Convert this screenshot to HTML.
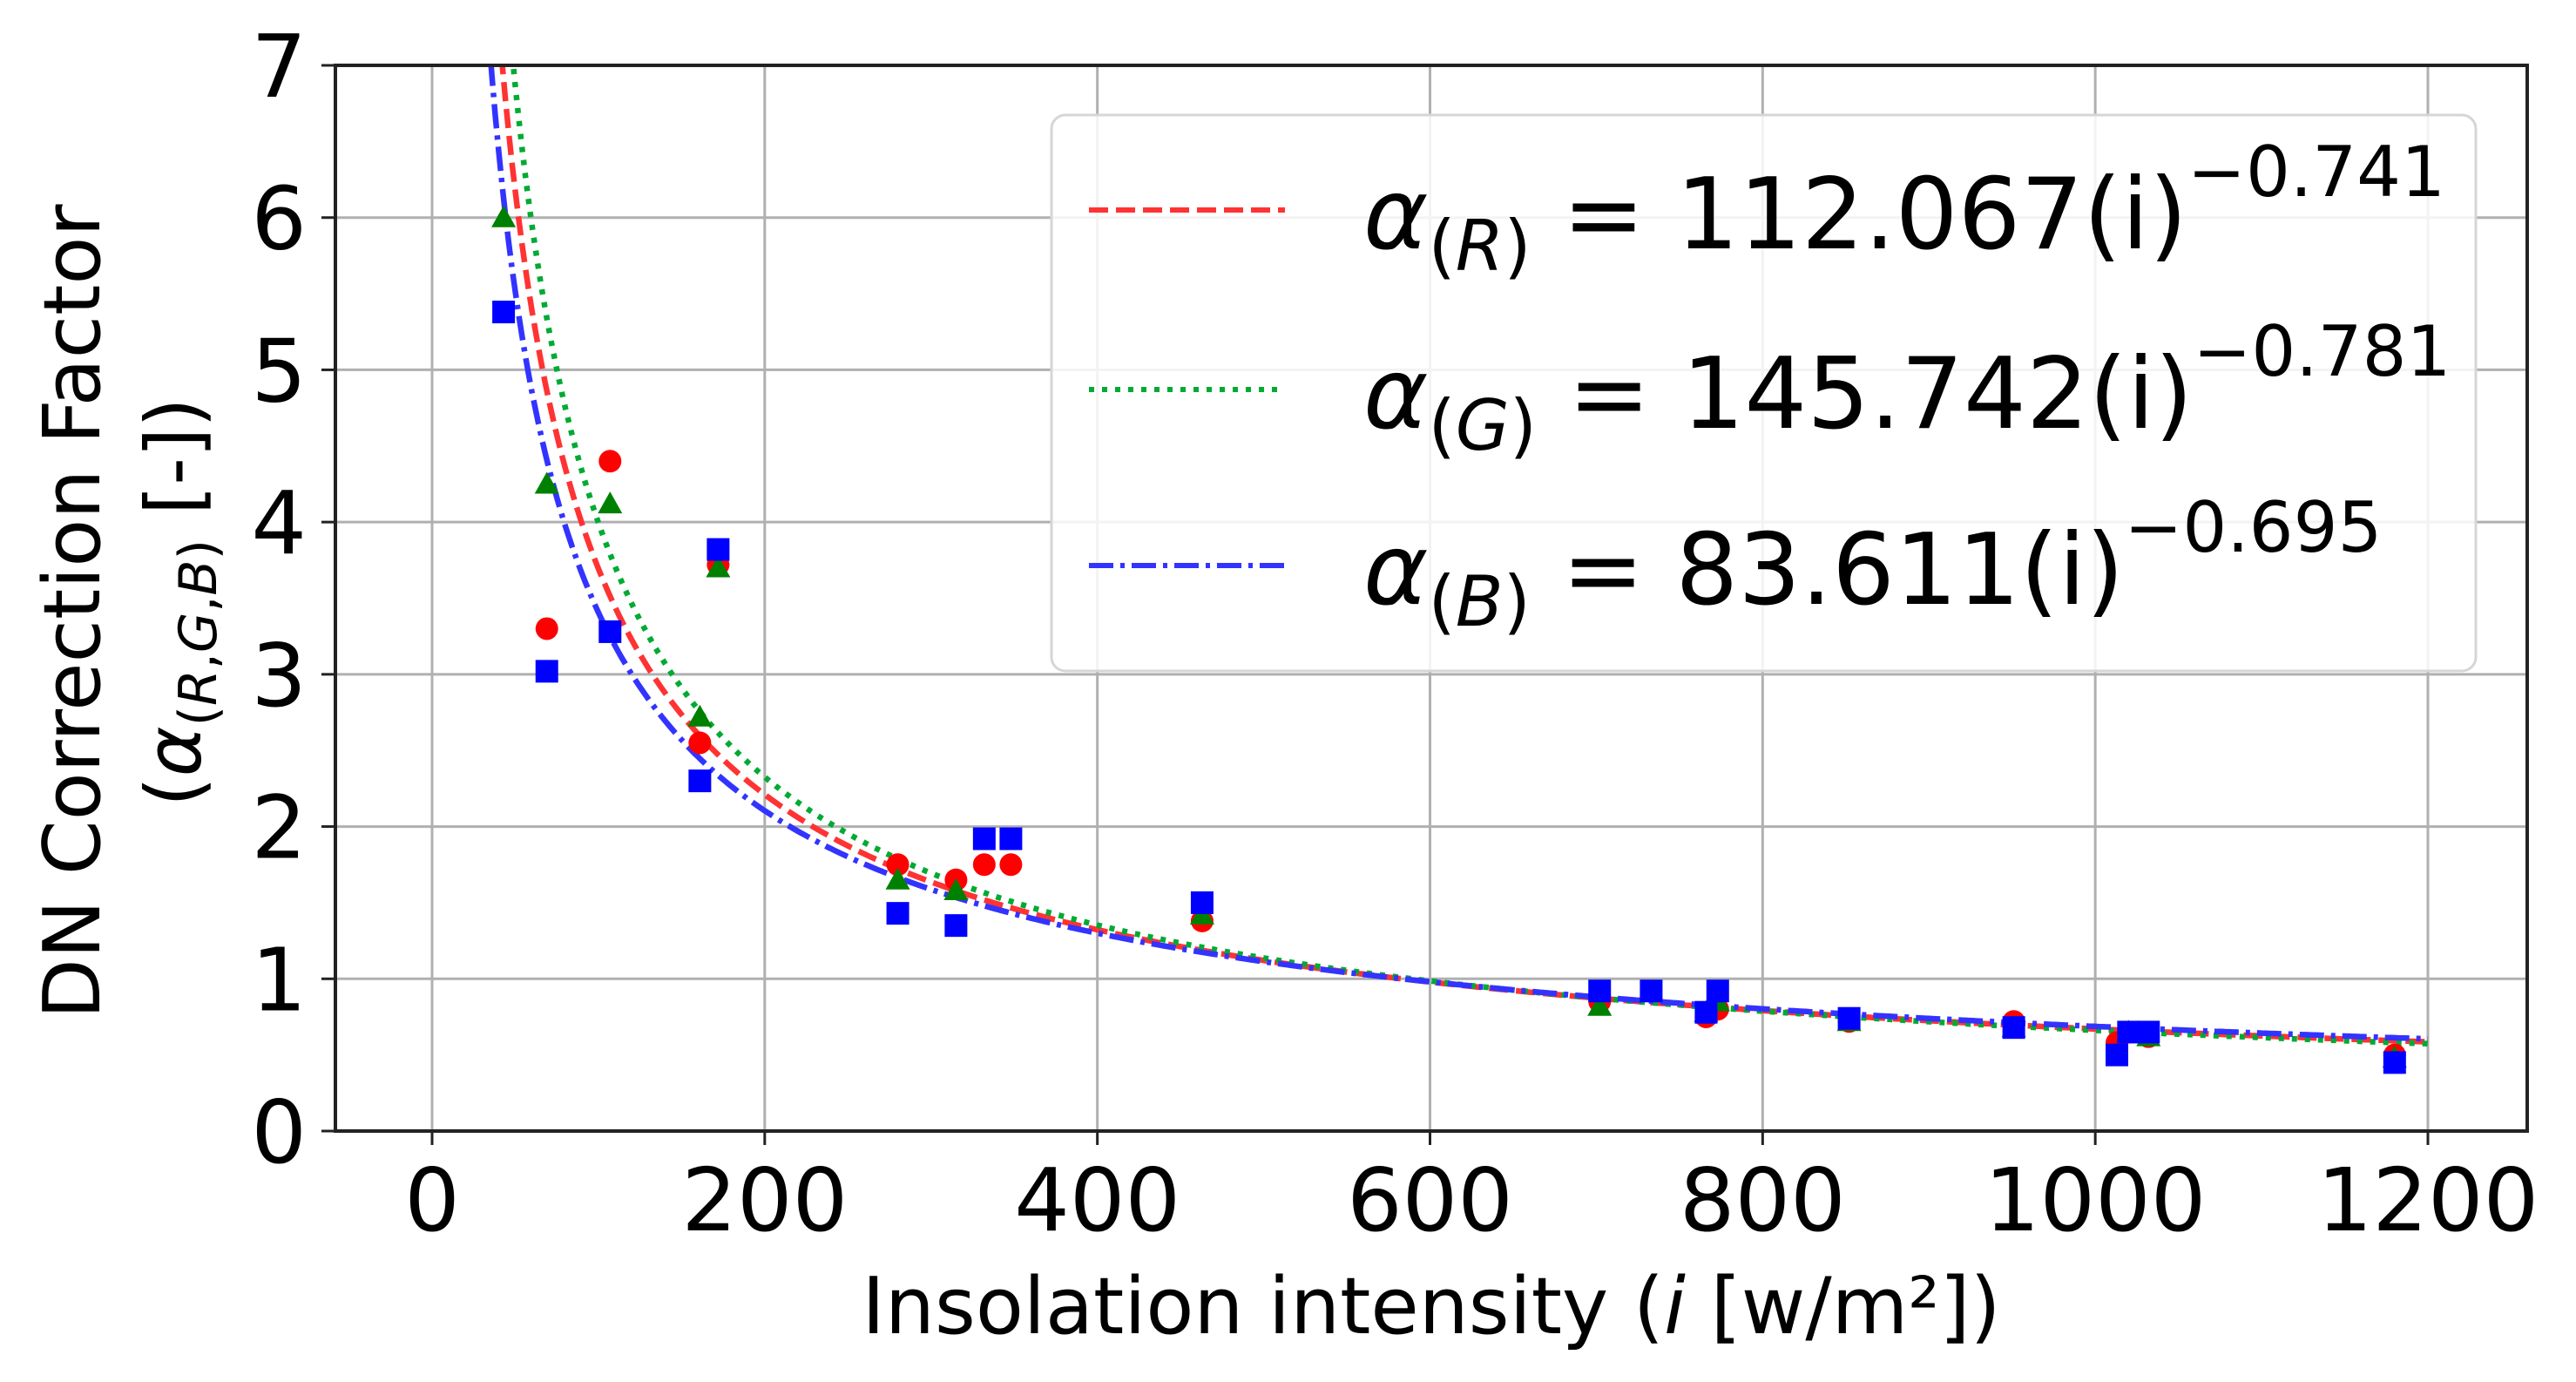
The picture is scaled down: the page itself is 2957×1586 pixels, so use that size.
<!DOCTYPE html>
<html><head><meta charset="utf-8"><style>
html,body{margin:0;padding:0;background:#fff;}
svg{display:block;font-family:"DejaVu Sans","Liberation Sans",sans-serif;}
</style></head><body>
<svg id="chart" width="2957" height="1586" viewBox="0 0 2957 1586" xmlns="http://www.w3.org/2000/svg">
<defs><clipPath id="plotclip"><rect x="385" y="75" width="2516" height="1223"/></clipPath></defs>
<rect x="0" y="0" width="2957" height="1586" fill="#fff"/>
<g id="grid"></g>
<g id="curves" clip-path="url(#plotclip)"></g>
<g id="points" clip-path="url(#plotclip)"></g>
<rect x="385" y="75" width="2516" height="1223" fill="none" stroke="#222" stroke-width="4"/>
<g id="ticks"></g>
<text x="1643" y="1530" font-size="90" text-anchor="middle">Insolation intensity (<tspan font-style="italic">i</tspan> [w/m²])</text>
<text transform="translate(114,702) rotate(-90)" font-size="90" text-anchor="middle">DN Correction Factor</text>
<text transform="translate(230,691) rotate(-90)" font-size="88" text-anchor="middle">(<tspan font-style="italic">α</tspan><tspan font-size="60" dy="18">(<tspan font-style="italic">R</tspan>,<tspan font-style="italic">G</tspan>,<tspan font-style="italic">B</tspan>)</tspan><tspan dy="-18"> [-])</tspan></text>
<g>
<rect x="1207" y="132" width="1635" height="638" rx="16" fill="#fff" fill-opacity="0.85" stroke="#d6d6d6" stroke-width="3"/>
<g>
<line x1="1250" y1="241" x2="1475" y2="241" stroke="#ff3333" stroke-width="6" stroke-dasharray="22,9"/>
<text x="1565" y="285" font-size="113"><tspan font-style="italic">α</tspan><tspan font-size="80" dy="25">(<tspan font-style="italic">R</tspan>)</tspan><tspan dy="-25"> = 112.067(i)</tspan><tspan font-size="80" dy="-60">−0.741</tspan></text>
</g>
<g>
<line x1="1250" y1="447" x2="1475" y2="447" stroke="#00aa33" stroke-width="6" stroke-dasharray="6,9"/>
<text x="1565" y="491" font-size="113"><tspan font-style="italic">α</tspan><tspan font-size="80" dy="25">(<tspan font-style="italic">G</tspan>)</tspan><tspan dy="-25"> = 145.742(i)</tspan><tspan font-size="80" dy="-60">−0.781</tspan></text>
</g>
<g>
<line x1="1250" y1="649" x2="1475" y2="649" stroke="#3333ff" stroke-width="6" stroke-dasharray="28,8,5,8"/>
<text x="1565" y="693" font-size="113"><tspan font-style="italic">α</tspan><tspan font-size="80" dy="25">(<tspan font-style="italic">B</tspan>)</tspan><tspan dy="-25"> = 83.611(i)</tspan><tspan font-size="80" dy="-60">−0.695</tspan></text>
</g>
</g>
</svg>
<script>
const xTicks = [0, 200, 400, 600, 800, 1000, 1200];
const yTicks = [0, 1, 2, 3, 4, 5, 6, 7];
const fitCoefR = [112.067, -0.741];
const fitCoefG = [145.742, -0.781];
const fitCoefB = [83.611, -0.695];
const redX = [69,107,161,172,280,315,332,348,463,702,766,773,852,951,1013,1020,1032,1180];
const redY = [3.3,4.4,2.55,3.72,1.75,1.65,1.75,1.75,1.38,0.85,0.75,0.8,0.72,0.72,0.58,0.65,0.62,0.5];
const greenX = [43,69,107,161,172,280,315,463,702,766,773,852,951,1020,1032,1180];
const greenY = [6.0,4.25,4.12,2.72,3.7,1.65,1.58,1.42,0.82,0.78,0.85,0.72,0.68,0.65,0.62,0.48];
const blueX = [43,69,107,161,172,280,315,332,348,463,702,733,773,766,852,951,1013,1020,1032,1180];
const blueY = [5.38,3.02,3.28,2.3,3.82,1.43,1.35,1.92,1.92,1.5,0.92,0.92,0.92,0.78,0.74,0.68,0.5,0.65,0.65,0.45];

const NS = 'http://www.w3.org/2000/svg';
const X0 = 496, XPER = (2787 - 496) / 1200;
const Y0 = 1298, YPER = (1298 - 75) / 7;
function xs(v){ return X0 + v * XPER; }
function ys(v){ return Y0 - v * YPER; }
function mk(tag, attrs, parent){ const e = document.createElementNS(NS, tag); for (const k in attrs) e.setAttribute(k, attrs[k]); parent.appendChild(e); return e; }

const grid = document.getElementById('grid');
const ticks = document.getElementById('ticks');
xTicks.forEach(t => {
  const g = mk('line', {x1: xs(t), x2: xs(t), y1: 75, y2: 1298, stroke: '#b0b0b0', 'stroke-width': 3}, grid);
  
  
  const tk = mk('line', {x1: xs(t), x2: xs(t), y1: 1298, y2: 1314, stroke: '#222', 'stroke-width': 3}, ticks);
  
  
  const lb = mk('text', {x: xs(t), y: 1412, 'font-size': 100, 'text-anchor': 'middle'}, ticks);
  lb.textContent = t;
  
  
});
yTicks.forEach(t => {
  const g = mk('line', {x1: 385, x2: 2901, y1: ys(t), y2: ys(t), stroke: '#b0b0b0', 'stroke-width': 3}, grid);
  
  
  const tk = mk('line', {x1: 369, x2: 385, y1: ys(t), y2: ys(t), stroke: '#222', 'stroke-width': 3}, ticks);
  
  
  const lb = mk('text', {x: 352, y: ys(t) + 36, 'font-size': 100, 'text-anchor': 'end'}, ticks);
  lb.textContent = t;
  
  
});

const curves = document.getElementById('curves');
function curve(coef, color, dash, name){
  let d = '';
  for (let i = 30; i <= 1200; i += 2) {
    const v = coef[0] * Math.pow(i, coef[1]);
    d += (d ? 'L' : 'M') + xs(i).toFixed(1) + ',' + ys(v).toFixed(1);
  }
  const p = mk('path', {d: d, fill: 'none', stroke: color, 'stroke-width': 6.5, 'stroke-dasharray': dash}, curves);
  
  
}
curve(fitCoefR, '#ff3333', '22,9', 'fit-curve-r');
curve(fitCoefG, '#00aa33', '6,9', 'fit-curve-g');
curve(fitCoefB, '#3333ff', '28,8,5,8', 'fit-curve-b');

const pts = document.getElementById('points');
redX.forEach((x, i) => {
  const c = mk('circle', {cx: xs(x), cy: ys(redY[i]), r: 13, fill: '#ff0000'}, pts);
  
  
});
greenX.forEach((x, i) => {
  const cx = xs(x), cy = ys(greenY[i]);
  const t = mk('polygon', {points: `${cx},${cy-14} ${cx-14},${cy+11} ${cx+14},${cy+11}`, fill: '#008000'}, pts);
  
  
});
blueX.forEach((x, i) => {
  const s = mk('rect', {x: xs(x) - 13, y: ys(blueY[i]) - 13, width: 26, height: 26, fill: '#0000ff'}, pts);
  
  
});
</script>
</body></html>
